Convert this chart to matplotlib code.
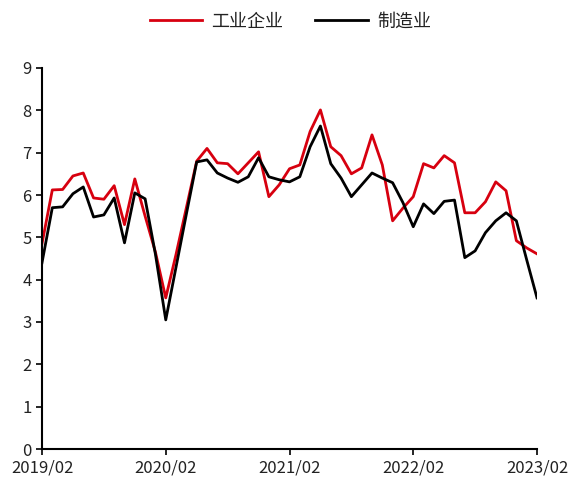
import matplotlib
matplotlib.use("Agg")
import matplotlib.pyplot as plt
import numpy as np

plt.rcParams['font.family'] = ['Noto Sans CJK SC', 'DejaVu Sans']

tick_labels = ["2019/02", "2020/02", "2021/02", "2022/02", "2023/02"]
industry = [4.85, 6.12, 6.13, 6.45, 6.52, 5.93, 5.90, 6.22, 5.30, 6.38,
            5.50, 4.65, 3.57, 4.60, 5.70, 6.80, 7.10, 6.76, 6.74, 6.50,
            6.76, 7.02, 5.96, 6.24, 6.62, 6.71, 7.50, 8.01, 7.14, 6.93,
            6.50, 6.64, 7.42, 6.71, 5.39, 5.69, 5.96, 6.74, 6.64, 6.93,
            6.76, 5.58, 5.58, 5.84, 6.31, 6.10, 4.92, 4.75, 4.61]
manufacturing = [4.40, 5.70, 5.72, 6.03, 6.19, 5.48, 5.53, 5.93, 4.87, 6.05,
                 5.91, 4.60, 3.05, 4.30, 5.55, 6.78, 6.83, 6.52, 6.40, 6.30,
                 6.43, 6.88, 6.43, 6.36, 6.31, 6.43, 7.14, 7.63, 6.74, 6.40,
                 5.96, 6.24, 6.52, 6.40, 6.29, 5.82, 5.25, 5.79, 5.56, 5.85,
                 5.88, 4.52, 4.68, 5.11, 5.39, 5.58, 5.39, 4.47, 3.57]

fig = plt.figure(figsize=(5.69, 4.78), dpi=100)
ax = fig.add_axes([42/569, 29/478, 495/569, 381/478])
x = np.arange(len(industry))
ax.plot(x, industry, color='#D7000F', lw=2, label='工业企业')
ax.plot(x, manufacturing, color='#000000', lw=2, label='制造业')

ax.set_xlim(0, 48)
ax.set_ylim(0, 9)
ax.set_xticks([0, 12, 24, 36, 48])
ax.set_xticklabels(tick_labels)
ax.set_yticks(range(10))
ax.tick_params(axis='both', labelsize=12, colors='#222222', direction='out', length=4, width=1.2)
ax.tick_params(axis='both', colors='black')
for lab in ax.get_xticklabels() + ax.get_yticklabels():
    lab.set_color('#222222')
for s in ['top', 'right']:
    ax.spines[s].set_visible(False)
for s in ['left', 'bottom']:
    ax.spines[s].set_linewidth(1.5)

leg = fig.legend(loc='center', bbox_to_anchor=(0.51, 0.955), ncol=2, frameon=False,
                 fontsize=13, handlelength=2.9, columnspacing=1.8, handletextpad=0.5)
for t in leg.get_texts():
    t.set_color('#222222')

fig.savefig('out.png', dpi=100)
